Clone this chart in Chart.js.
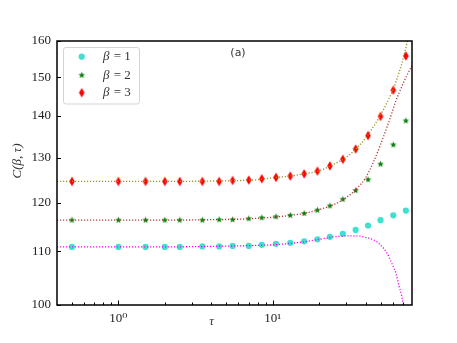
<!DOCTYPE html>
<html><head><meta charset="utf-8">
<script src="https://cdn.jsdelivr.net/npm/chart.js@4"></script>
<style>html,body{margin:0;padding:0;background:#fff;}#wrap{width:457px;height:343px;}</style>
</head><body><div id="wrap"><canvas id="c" width="457" height="343"></canvas></div>
<script>
// ---- data ----
const tau = [0.5,1,1.5,2,2.5,3.5,4.5,5.5,7,8.5,10.5,13,16,19.5,23.5,28.5,34.5,41.5,50,60.5,73];
const c1 = [110.9,110.9,110.9,110.9,110.9,111.0,111.0,111.1,111.1,111.3,111.5,111.7,112.0,112.4,112.9,113.5,114.3,115.2,116.3,117.3,118.3];
const c2 = [116.3,116.3,116.3,116.3,116.3,116.3,116.4,116.4,116.6,116.8,117.0,117.3,117.7,118.4,119.3,120.7,122.6,125.0,128.5,133.0,138.8];
const c3 = [124.6,124.6,124.6,124.6,124.6,124.6,124.6,124.8,124.9,125.2,125.5,125.8,126.3,126.9,128.1,129.6,132.0,135.2,139.9,146.6,155.8];
// fitted (dotted) curves
const fitTau = [0.4,1,2,4,6,8,10,13,16,20,25,30,35,40,45,50,55,60,63,66,68,70,72,75,80];
const fit1 = [110.9,110.9,110.9,111.0,111.1,111.2,111.3,111.6,111.9,112.4,112.9,113.1,113.1,112.8,112.3,111.3,109.7,107.3,105.8,103.4,102.1,100.3,98.0,94.0,85.0];
const fit2 = [116.3,116.3,116.3,116.4,116.5,116.7,116.9,117.3,117.7,118.5,119.6,121.1,123.0,125.4,129.0,133.0,137.2,141.4,143.9,145.9,147.1,148.3,149.4,150.9,153.2];
const fit3 = [124.6,124.6,124.6,124.7,124.8,125.0,125.4,125.8,126.3,127.0,128.5,130.1,132.2,134.6,137.4,140.2,143.3,146.5,148.8,151.3,153.0,155.0,157.0,160.3,166.0];
const seriesLabels = ['1','2','3'];
const yTicks = [100,110,120,130,140,150,160];
const xMajor = [1,10];
const xMinor = [0.5,0.6,0.7,0.8,0.9,2,3,4,5,6,7,8,9,20,30,40,50,60,70];

const pts = (xs, ys) => xs.map((v,i)=>({x:v,y:ys[i]}));

function starCanvas(color, r){
  const s = Math.ceil(r*2+2), c = document.createElement('canvas');
  c.width = s; c.height = s; const g = c.getContext('2d');
  g.fillStyle = color; g.beginPath();
  for(let i=0;i<10;i++){
    const rr = i%2===0 ? r : r*0.45;
    const a = -Math.PI/2 + i*Math.PI/5;
    const px = s/2 + rr*Math.cos(a), py = s/2 + rr*Math.sin(a);
    i===0 ? g.moveTo(px,py) : g.lineTo(px,py);
  }
  g.closePath(); g.fill(); return c;
}
function diamondCanvas(color, w, h){
  const c = document.createElement('canvas');
  c.width = Math.ceil(w)+2; c.height = Math.ceil(h)+2; const g = c.getContext('2d');
  const cx = c.width/2, cy = c.height/2;
  g.fillStyle = color; g.beginPath();
  g.moveTo(cx, cy-h/2); g.lineTo(cx+w/2, cy); g.lineTo(cx, cy+h/2); g.lineTo(cx-w/2, cy);
  g.closePath(); g.fill(); return c;
}
const starImg = starCanvas('#0a800a', 3.4);
const diaImg = diamondCanvas('#ff0000', 5.6, 9.6);

const dotted = [1.2, 1.8];
const decor = {
  id: 'decor',
  afterDraw(chart){
    const {ctx, chartArea:a, scales:{x, y}} = chart;
    ctx.save();
    ctx.strokeStyle = '#000'; ctx.lineWidth = 1;
    const seg = (x1,y1,x2,y2)=>{ctx.beginPath();ctx.moveTo(x1,y1);ctx.lineTo(x2,y2);ctx.stroke();};
    xMajor.forEach(v=>{const p=Math.round(x.getPixelForValue(v))+0.5; seg(p,a.bottom,p,a.bottom-4.5);});
    xMinor.forEach(v=>{const p=Math.round(x.getPixelForValue(v))+0.5; seg(p,a.bottom,p,a.bottom-2.5);});
    yTicks.forEach(v=>{const p=Math.round(y.getPixelForValue(v))+0.5; seg(a.left,p,a.left+4,p);});
    ctx.lineWidth = 1.5;
    ctx.strokeRect(a.left, a.top, a.right-a.left, a.bottom-a.top);
    // legend
    const lx = 63.5, ly = 47.5, lw = 76, lh = 56.5;
    ctx.lineWidth = 1; ctx.strokeStyle = '#d4d4d4'; ctx.fillStyle = 'rgba(255,255,255,0.85)';
    ctx.beginPath(); ctx.roundRect(lx, ly, lw, lh, 2.5); ctx.fill(); ctx.stroke();
    const rows = [56.7, 75.2, 92.7];
    // markers
    ctx.fillStyle = '#40e0d0'; ctx.beginPath(); ctx.arc(81.7, rows[0], 3.1, 0, Math.PI*2); ctx.fill();
    ctx.drawImage(starImg, 81.7-starImg.width/2, rows[1]-starImg.height/2);
    ctx.drawImage(diaImg, 81.7-diaImg.width/2, rows[2]-diaImg.height/2);
    ctx.fillStyle = '#333'; ctx.textBaseline = 'middle';
    seriesLabels.forEach((lab,i)=>{
      ctx.font = 'italic 13px "Liberation Serif", "DejaVu Serif", serif';
      ctx.fillText('\u03b2', 103, rows[i]);
      const w = ctx.measureText('\u03b2').width;
      ctx.font = '13px "Liberation Serif", "DejaVu Serif", serif';
      ctx.fillText(' = ' + lab, 103 + w + 1, rows[i]);
    });
    // panel label
    ctx.fillStyle = '#333'; ctx.font = '11px "DejaVu Sans", sans-serif'; ctx.textAlign = 'center';
    ctx.fillText('(a)', 238, 53.5);
    // axis titles
    ctx.font = 'italic 13px "Liberation Serif", "DejaVu Serif", serif';
    ctx.fillText('\u03c4', 211.5, 322);
    ctx.translate(17.5, 161); ctx.rotate(-Math.PI/2);
    ctx.fillText('C(\u03b2, \u03c4)', 0, 0);
    ctx.restore();
  }
};

new Chart(document.getElementById('c'), {
  type: 'line',
  data: { datasets: [
    {label:'fit1', data: pts(fitTau, fit1), borderColor:'#ff00ff', borderWidth:1.3, borderDash:dotted, pointRadius:0, cubicInterpolationMode:'monotone', fill:false},
    {label:'fit2', data: pts(fitTau, fit2), borderColor:'#b03a3a', borderWidth:1.3, borderDash:dotted, pointRadius:0, cubicInterpolationMode:'monotone', fill:false},
    {label:'fit3', data: pts(fitTau, fit3), borderColor:'#9a9420', borderWidth:1.3, borderDash:dotted, pointRadius:0, cubicInterpolationMode:'monotone', fill:false},
    {label:'\u03b2 = 1', data: pts(tau, c1), showLine:false, pointStyle:'circle', pointRadius:3.1, pointBackgroundColor:'#40e0d0', pointBorderWidth:0, borderColor:'#40e0d0'},
    {label:'\u03b2 = 2', data: pts(tau, c2), showLine:false, pointStyle:starImg, pointRadius:4, borderColor:'#0a800a'},
    {label:'\u03b2 = 3', data: pts(tau, c3), showLine:false, pointStyle:diaImg, pointRadius:5, borderColor:'#ff0000'}
  ]},
  options: {
    responsive:false, animation:false, devicePixelRatio:1,
    layout:{padding:{left:0, right:45, top:41, bottom:0}},
    plugins:{legend:{display:false}, tooltip:{enabled:false}},
    scales:{
      x:{type:'logarithmic', min:0.4, max:80,
        grid:{display:false, drawTicks:false}, border:{display:false},
        afterFit:s=>{s.height = 38;},
        afterBuildTicks:s=>{s.ticks = xMajor.concat(xMinor).sort((a,b)=>a-b).map(v=>({value:v}));},
        ticks:{autoSkip:false, maxRotation:0, padding:6, color:'#222',
          font:{family:'"Liberation Serif", "DejaVu Serif", serif', size:13},
          callback:v=> v===1 ? '10\u2070' : (v===10 ? '10\u00b9' : '')}},
      y:{type:'logarithmic', min:100, max:160,
        grid:{display:false, drawTicks:false}, border:{display:false},
        afterFit:s=>{s.width = 57;},
        afterBuildTicks:s=>{s.ticks = yTicks.map(v=>({value:v}));},
        ticks:{autoSkip:false, padding:6, color:'#222',
          font:{family:'"Liberation Serif", "DejaVu Serif", serif', size:13},
          callback:v=>String(v)}}
    }
  },
  plugins:[decor]
});
</script></body></html>
